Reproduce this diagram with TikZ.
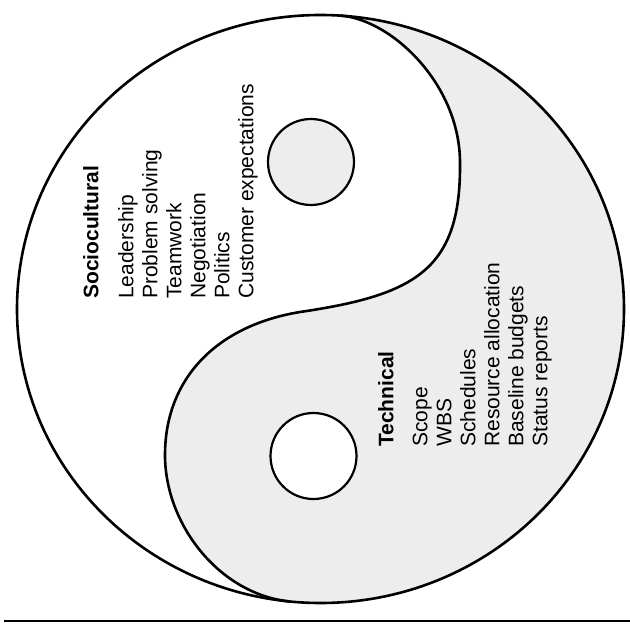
\documentclass[tikz,border=0pt]{standalone}
\usepackage{fontspec}
\setmainfont{Liberation Sans}
\begin{document}
\begin{tikzpicture}[x=1pt,y=-1pt,
  outline/.style={line width=2.6pt},
  dotline/.style={line width=2.2pt},
  stipple/.style={fill=black!7},
  txtblock/.style={rotate=90, anchor=north west, inner sep=0pt, align=left,
    font=\fontsize{21}{24}\selectfont}]
\useasboundingbox (0,0) rectangle (630,629);
\coordinate (C) at (320.5,309);
\coordinate (T) at (340,15.6);
\coordinate (R) at (460,163);
\coordinate (M) at (300,312);
\coordinate (L) at (165,455);
\coordinate (B) at (290,601.5);
% shaded half
\begin{scope}
  \clip (340,-20) -- (T) .. controls (390,18.7) and (460,83) .. (R)
        .. controls (461,270) and (415,295) .. (M)
        .. controls (215,326) and (165,380) .. (L)
        .. controls (165,525) and (220,594.6) .. (B)
        -- (290,650) -- (700,650) -- (700,-20) -- cycle;
  \fill[stipple] (C) ellipse [x radius=303.5, y radius=294];
\end{scope}
% small circles
\filldraw[stipple, draw=black, dotline] (311,162) circle [radius=43];
\filldraw[fill=white, draw=black, dotline] (313.5,456) circle [radius=43];
% S curve
\draw[outline] (T) .. controls (390,18.7) and (460,83) .. (R)
        .. controls (461,270) and (415,295) .. (M)
        .. controls (215,326) and (165,380) .. (L)
        .. controls (165,525) and (220,594.6) .. (B);
% outer circle
\draw[outline] (C) ellipse [x radius=303.5, y radius=294];
% bottom rule
\coordinate (RL) at (4,621);
\coordinate (RR) at (630,621);
\draw[line width=2.6pt] (RL) -- (RR);
% texts
\node[txtblock] (soc) at (83,299) {\textbf{Sociocultural}\\[11pt]Leadership\\Problem solving\\Teamwork\\Negotiation\\Politics\\Customer expectations};
\node[txtblock] (tech) at (378,447) {\textbf{Technical}\\[10pt]Scope\\WBS\\Schedules\\Resource allocation\\Baseline budgets\\Status reports};
\end{tikzpicture}
\end{document}
